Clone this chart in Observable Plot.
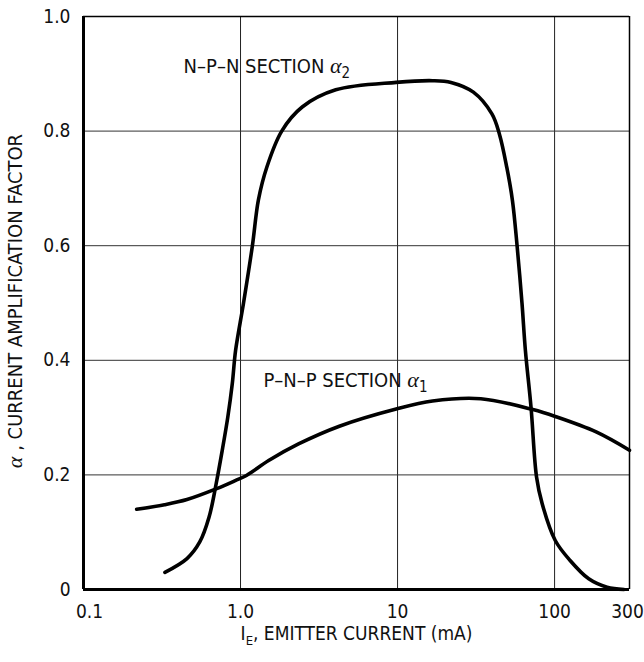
<!DOCTYPE html>
<html><head><meta charset="utf-8">
<script src="https://cdn.jsdelivr.net/npm/d3@7"></script>
<script src="https://cdn.jsdelivr.net/npm/@observablehq/plot@0.6"></script>
<style>body{margin:0;background:#fff}</style>
</head><body><div id="chart"></div>
<script>
const xTicks = [0.1, 1, 10, 100, 300];
const xTickLabels = ["0.1", "1.0", "10", "100", "300"];
const yTicks = [0, 0.2, 0.4, 0.6, 0.8, 1.0];
const yTickLabels = ["0", "0.2", "0.4", "0.6", "0.8", "1.0"];
const xGrid = [1, 10, 100];
const yGrid = [0.2, 0.4, 0.6, 0.8];

const npnCurrent = [0.33, 0.456, 0.55, 0.63, 0.70, 0.765, 0.83, 0.886, 0.93, 1.045, 1.19, 1.30, 1.47, 1.83, 2.47, 4.04, 9.8, 16.7, 21.9, 30.4, 39.9, 44.5, 49.6, 53.9, 57.7, 62, 65.2, 70.8, 76.8, 83.3, 101, 125.6, 165, 216, 277];
const npnAlpha   = [0.030, 0.054, 0.083, 0.126, 0.185, 0.243, 0.301, 0.359, 0.417, 0.50, 0.60, 0.68, 0.737, 0.80, 0.842, 0.872, 0.885, 0.888, 0.885, 0.868, 0.830, 0.795, 0.737, 0.679, 0.60, 0.50, 0.417, 0.318, 0.196, 0.150, 0.0855, 0.0506, 0.0186, 0.004, 0.0];

const pnpCurrent = [0.218, 0.328, 0.456, 0.705, 0.926, 1.09, 1.51, 2.34, 4.26, 9.8, 16.7, 33.9, 72.7, 101, 184, 300];
const pnpAlpha   = [0.140, 0.148, 0.157, 0.176, 0.190, 0.199, 0.225, 0.254, 0.285, 0.315, 0.329, 0.333, 0.314, 0.302, 0.275, 0.243];

const seriesLabels = ["N–P–N SECTION ", "P–N–P SECTION "];
const seriesSubscripts = ["2", "1"];
const labelCurrent = [0.434, 1.40];
const labelAlpha = [0.912, 0.364];

const xTitleParts = ["I", "E", ", EMITTER CURRENT (mA)"];
const yTitleParts = ["α", " , CURRENT AMPLIFICATION FACTOR"];

const FONT = '"Liberation Sans Narrow", "Arial Narrow", "DejaVu Sans Condensed", "Liberation Sans", Arial, sans-serif';
const SERIF = '"Liberation Serif", "DejaVu Serif", serif';

const npn = npnCurrent.map((c, i) => ({c, a: npnAlpha[i]}));
const pnp = pnpCurrent.map((c, i) => ({c, a: pnpAlpha[i]}));
const labels = seriesLabels.map((t, i) => ({t, c: labelCurrent[i], a: labelAlpha[i]}));
const midTicks = xTicks.slice(1, -1);
const fmtX = d => xTickLabels[xTicks.indexOf(d)];

const chart = Plot.plot({
  width: 644, height: 662,
  marginLeft: 83, marginRight: 15, marginTop: 16, marginBottom: 73,
  style: {fontFamily: FONT, fontSize: "19px", color: "#111", background: "#fff"},
  x: {type: "log", domain: [0.1, 300], ticks: midTicks, tickFormat: fmtX, tickSize: 0, tickPadding: 15, label: null},
  y: {domain: [0, 1], ticks: yTicks, tickFormat: d => yTickLabels[yTicks.indexOf(d)], tickSize: 0, tickPadding: 13, label: null},
  marks: [
    Plot.ruleX(xGrid, {stroke: "#222", strokeWidth: 1}),
    Plot.ruleY(yGrid, {stroke: "#333", strokeWidth: 1}),
    Plot.ruleY([1], {stroke: "#000", strokeWidth: 1.5}),
    Plot.ruleX([300], {stroke: "#000", strokeWidth: 1.5}),
    Plot.line(npn, {x: "c", y: "a", curve: "catmull-rom", stroke: "#000", strokeWidth: 3.6, strokeLinecap: "round"}),
    Plot.line(pnp, {x: "c", y: "a", curve: "catmull-rom", stroke: "#000", strokeWidth: 3.6, strokeLinecap: "round"}),
    Plot.ruleY([0], {stroke: "#000", strokeWidth: 3}),
    Plot.ruleX([0.1], {stroke: "#000", strokeWidth: 3}),
    // end tick labels, nudged inward as in the reference
    Plot.text([xTicks[0]], {x: d => d, text: fmtX, frameAnchor: "bottom", lineAnchor: "top", dy: 15, dx: 6, fontSize: 19, fill: "#111"}),
    Plot.text([xTicks[xTicks.length - 1]], {x: d => d, text: fmtX, frameAnchor: "bottom", lineAnchor: "top", dy: 15, dx: -2, fontSize: 19, fill: "#111"}),
    Plot.text(labels, {x: "c", y: "a", text: "t", textAnchor: "start", fontSize: 20, fill: "#111"}),
    Plot.text([xTitleParts.join("")], {text: d => d, frameAnchor: "bottom", lineAnchor: "middle", dy: 44, fontSize: 19, fill: "#111"}),
    Plot.text([yTitleParts.join("")], {text: d => d, frameAnchor: "left", textAnchor: "middle", lineAnchor: "middle", rotate: -90, dx: -68, dy: -2, fontSize: 20, fill: "#111"})
  ]
});

const svg = d3.select(chart);
const texts = svg.selectAll("text");
// series labels: add alpha + subscript
seriesLabels.forEach((base, i) => {
  texts.filter(function() { return this.textContent === base; }).each(function() {
    const t = d3.select(this);
    t.text(base);
    t.append("tspan").attr("font-family", SERIF).attr("font-style", "italic").attr("font-size", "22px").text("α");
    t.append("tspan").attr("font-size", "15px").attr("dy", "5").text(seriesSubscripts[i]);
  });
});
// x title with subscript E
texts.filter(function() { return this.textContent === xTitleParts.join(""); }).each(function() {
  const t = d3.select(this);
  t.text(xTitleParts[0]);
  t.append("tspan").attr("font-size", "13px").attr("dy", "5").text(xTitleParts[1]);
  t.append("tspan").attr("dy", "-5").text(xTitleParts[2]);
});
// y title with serif alpha
texts.filter(function() { return this.textContent === yTitleParts.join(""); }).each(function() {
  const t = d3.select(this);
  t.text("");
  t.append("tspan").attr("font-family", SERIF).attr("font-style", "italic").attr("font-size", "22px").text(yTitleParts[0]);
  t.append("tspan").text(yTitleParts[1]);
});

document.getElementById("chart").append(chart);
</script>
</body></html>
